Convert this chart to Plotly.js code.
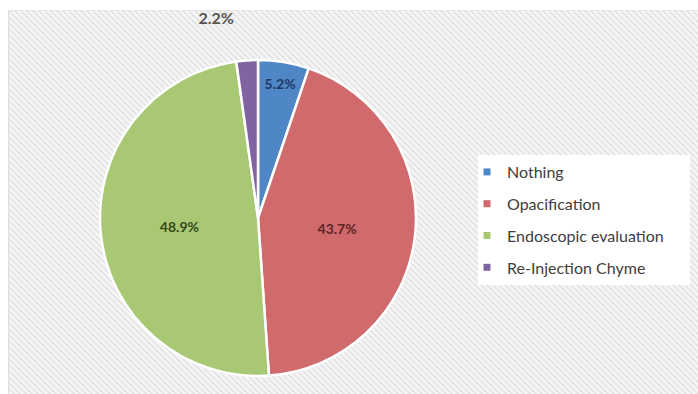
<!DOCTYPE html>
<html>
<head>
<meta charset="utf-8">
<script src="https://cdn.plot.ly/plotly-3.0.1.min.js"></script>
<style>html,body{margin:0;padding:0;background:#fff;}#chart{width:698px;height:394px;}</style>
</head>
<body>
<div id="chart"></div>
<script>
// ---- data ----
var categories = ['Nothing', 'Opacification', 'Endoscopic evaluation', 'Re-Injection Chyme'];
var percentValues = [5.2, 43.7, 48.9, 2.2];
var sliceColors = ['#4f86c6', '#d06a6c', '#a8c874', '#8064a2'];
var labelColors = ['#1f3864', '#5e2426', '#34481a', '#4a4a4a'];
var labelPlacement = ['inside', 'inside', 'inside', 'outside'];
var labelTemplates = ['%{value:.1f}%', '%{value:.1f}%', '%{value:.1f}%',
  '<span style="font-size:16px">%{value:.1f}%</span><br>\u00a0<br>\u00a0'];

// ---- hatched background image ----
var svg = "<svg xmlns='http://www.w3.org/2000/svg' width='690' height='384'>" +
  "<defs><pattern id='p' width='6' height='6' patternUnits='userSpaceOnUse'>" +
  "<rect width='6' height='6' fill='#f6f6f6'/>" +
  "<path d='M0,0 L6,6 M-1,5 L1,7 M5,-1 L7,1' stroke='#e3e3e3' stroke-width='1.6'/>" +
  "</pattern></defs>" +
  "<rect x='0' y='0' width='690' height='384' fill='url(#p)'/>" +
  "<line x1='0.5' y1='0' x2='0.5' y2='384' stroke='#dedede' stroke-width='1'/>" +
  "<line x1='0' y1='0.5' x2='690' y2='0.5' stroke='#e6e6e6' stroke-width='1'/>" +
  "</svg>";
var bgSrc = 'data:image/svg+xml;utf8,' + encodeURIComponent(svg);

var traces = [{
  type: 'pie',
  labels: categories,
  values: percentValues,
  sort: false,
  direction: 'clockwise',
  rotation: 0,
  showlegend: false,
  marker: {colors: sliceColors, line: {color: '#ffffff', width: 2.5}},
  texttemplate: labelTemplates,
  textposition: labelPlacement,
  insidetextorientation: 'horizontal',
  insidetextfont: {family: 'Lato, sans-serif', size: 14, color: labelColors, weight: 'bold'},
  outsidetextfont: {family: 'Lato, sans-serif', size: 13, color: '#555555', weight: 'bold'},
  hoverinfo: 'label+percent',
  domain: {x: [0.1433, 0.596], y: [0.0457, 0.8477]}
}];

categories.forEach(function (c, i) {
  traces.push({
    type: 'scatter', mode: 'markers', x: [null], y: [null],
    name: c, legendgroup: 'g' + i, showlegend: true,
    marker: {symbol: 'square', size: 7, color: sliceColors[i]},
    hoverinfo: 'skip'
  });
});

var layout = {
  width: 698, height: 394,
  margin: {l: 0, r: 0, t: 0, b: 0},
  paper_bgcolor: '#ffffff',
  plot_bgcolor: 'rgba(0,0,0,0)',
  font: {family: 'Lato, sans-serif', color: '#404040'},
  xaxis: {visible: false, range: [0, 1]},
  yaxis: {visible: false, range: [0, 1]},
  images: [{
    source: bgSrc, xref: 'paper', yref: 'paper',
    x: 8 / 698, y: 1 - 10 / 394, sizex: 690 / 698, sizey: 384 / 394,
    xanchor: 'left', yanchor: 'top', sizing: 'stretch', layer: 'below'
  }],
  shapes: [{
    type: 'rect', xref: 'paper', yref: 'paper', layer: 'below',
    x0: 478 / 698, x1: 690 / 698, y0: 1 - 285 / 394, y1: 1 - 155 / 394,
    fillcolor: '#ffffff', line: {width: 0}
  }],
  legend: {
    x: 467 / 698, y: 1 - 155 / 394, xanchor: 'left', yanchor: 'top',
    bgcolor: 'rgba(0,0,0,0)', borderwidth: 0,
    traceorder: 'grouped', tracegroupgap: 8,
    font: {family: 'Lato, sans-serif', size: 16, color: '#404040'}
  }
};

Plotly.newPlot('chart', traces, layout, {displayModeBar: false, staticPlot: true});
</script>
</body>
</html>
